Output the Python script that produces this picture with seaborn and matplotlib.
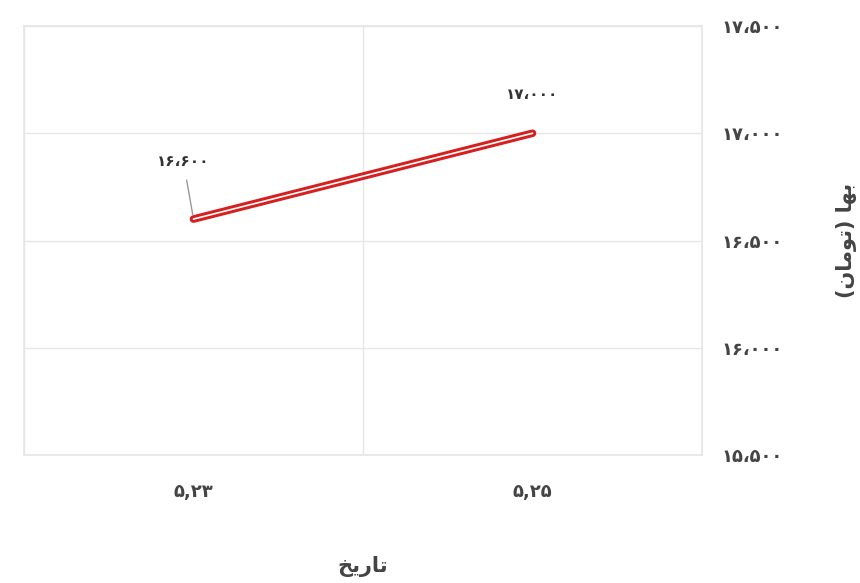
import matplotlib
matplotlib.use("Agg")
import matplotlib.pyplot as plt
import seaborn as sns
import pandas as pd

# داده ها
tarikh = ["5,23", "5,25"]
baha = [16600, 17000]
y_ticks = [15500, 16000, 16500, 17000, 17500]

FA = str.maketrans("0123456789,", "۰۱۲۳۴۵۶۷۸۹،")

def fa_num(v):
    return f"{v:,}".translate(FA)

def fa_date(s):
    return s.translate(str.maketrans("0123456789", "۰۱۲۳۴۵۶۷۸۹"))

# متن فارسی به صورت شکل های ارائه (بدون reshaper)
label_x = "\uFEA6\uFBFE\uFEAD\uFE8E\uFE97"
label_y = "(\uFEE5\uFE8E\uFEE3\uFEEE\uFE97) \uFE8E\uFEEC\uFE91"

df = pd.DataFrame({"x": range(len(tarikh)), "y": baha})

sns.set_theme(style="white")
plt.rcParams["font.family"] = ["DejaVu Sans"]
fig = plt.figure(figsize=(8.6, 5.83), dpi=100)
ax = fig.add_axes([24/860, 1-455/583, (702-24)/860, (455-26)/583])

sns.lineplot(data=df, x="x", y="y", color="#d62020", linewidth=5.5, ax=ax)
sns.lineplot(data=df, x="x", y="y", color="white", linewidth=1.2, ax=ax)

ax.set_xlim(-0.5, 1.5)
ax.set_ylim(15500, 17500)
ax.set_xticks([-0.5, 0.5, 1.5], minor=True)
ax.set_xticks(range(len(tarikh)))
ax.set_xticklabels([fa_date(t) for t in tarikh], fontsize=13, color="#444444", fontweight="bold")
ax.grid(True, which="minor", axis="x", color="#e6e6e6", linewidth=1)
ax.grid(True, which="major", axis="y", color="#e6e6e6", linewidth=1)
ax.tick_params(axis="x", which="both", length=0, pad=20)
ax.yaxis.tick_right()
ax.set_yticks(y_ticks)
ax.set_yticklabels([fa_num(v) for v in y_ticks], fontsize=13, color="#444444", fontweight="bold")
ax.tick_params(axis="y", length=0, pad=14)
for s in ax.spines.values():
    s.set_color("#e6e6e6")

ax.set_xlabel(label_x, fontsize=15, color="#444444", fontweight="bold", labelpad=40)
ax.yaxis.set_label_position("right")
ax.set_ylabel(label_y, fontsize=15, color="#444444", fontweight="bold", rotation=90, labelpad=38)

ax.annotate(fa_num(baha[0]), xy=(0, baha[0]), xytext=(-0.03, 16870),
            ha="center", va="center", fontsize=11, color="#333333", fontweight="bold",
            arrowprops=dict(arrowstyle="-", color="#999999", lw=1, shrinkA=6, shrinkB=3))
ax.annotate(fa_num(baha[1]), xy=(1, baha[1]), xytext=(0, 28), textcoords="offset points",
            ha="center", va="center", fontsize=11, color="#333333", fontweight="bold")

fig.savefig("out.png", dpi=100)
